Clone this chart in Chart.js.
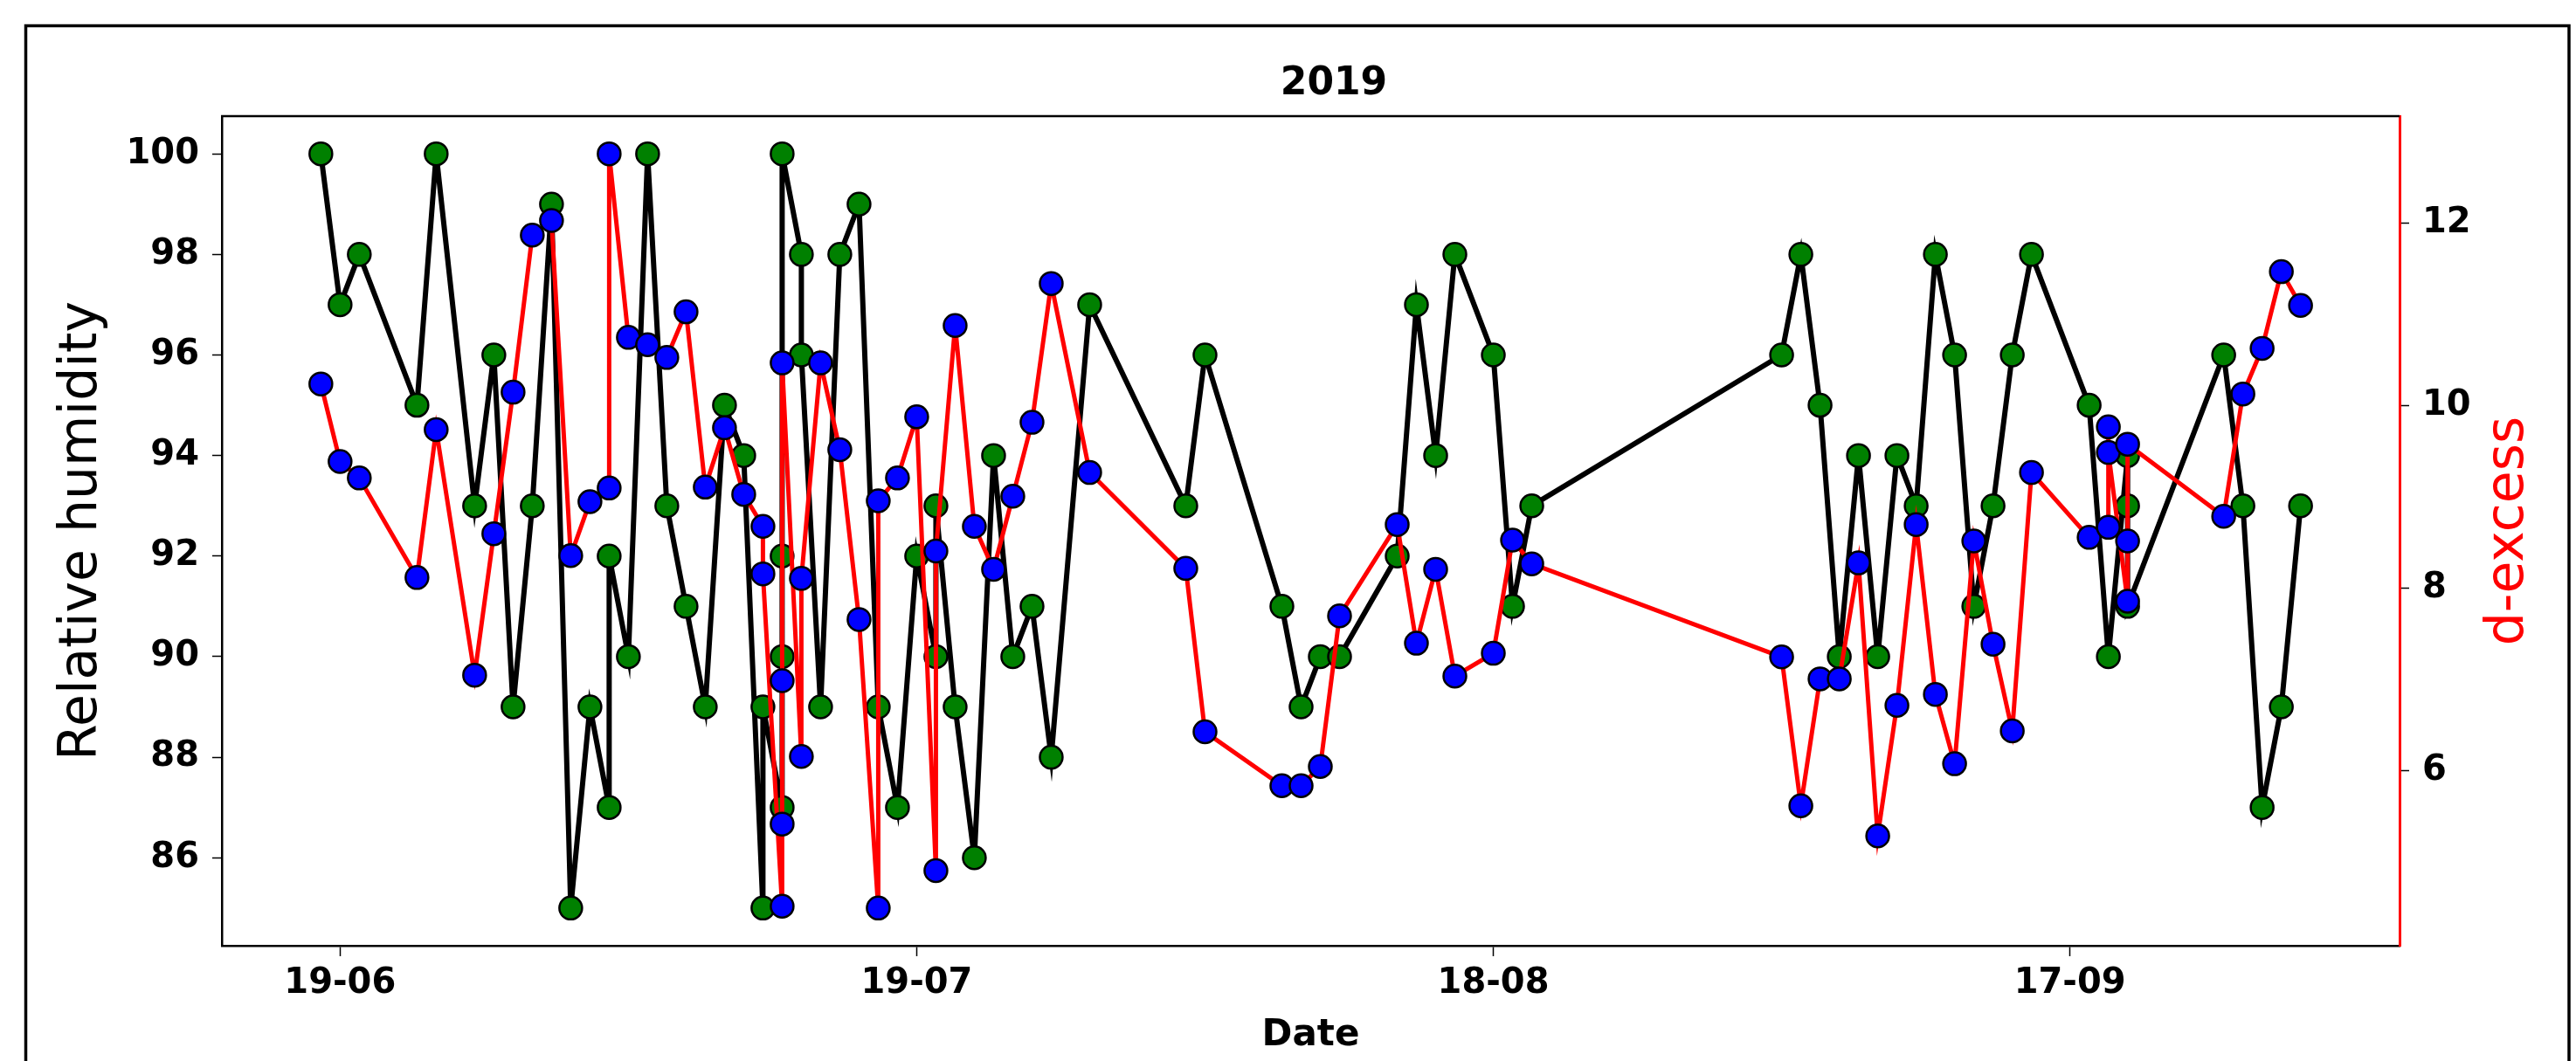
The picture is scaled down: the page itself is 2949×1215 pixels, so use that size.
<!DOCTYPE html>
<html>
<head>
<meta charset="utf-8">
<script src="https://cdn.jsdelivr.net/npm/chart.js@4.4.1/dist/chart.umd.min.js"></script>
<style>
html, body { margin: 0; padding: 0; background: #ffffff; }
#wrap { width: 2949px; height: 1215px; position: relative; }
canvas { display: block; }
</style>
</head>
<body>
<div id="wrap"><canvas id="c" width="2949" height="1215"></canvas></div>
<script>
// ---------------- data ----------------
const chartTitle = '2019';
const xTitle = 'Date';
const yLeftTitle = 'Relative humidity';
const yRightTitle = 'd-excess';
const year = 2019;

const xTickDates  = ['06-19', '07-19', '08-18', '09-17'];
const xTickLabels = ['19-06', '19-07', '18-08', '17-09'];
const rhTicks = [86, 88, 90, 92, 94, 96, 98, 100];
const dxTicks = [6, 8, 10, 12];

// Relative humidity (black line, green markers)
const rhDates = ['06-18','06-19','06-20','06-23','06-24','06-26','06-27','06-28','06-29','06-30',
  '07-01','07-02','07-03','07-03','07-04','07-05','07-06','07-07','07-08','07-09',
  '07-10','07-11','07-11','07-12','07-12','07-12','07-12','07-13','07-13','07-14',
  '07-15','07-16','07-17','07-18','07-19','07-20','07-20','07-21','07-22','07-23',
  '07-24','07-25','07-26','07-28','08-02','08-03','08-07','08-08','08-09','08-10',
  '08-13','08-14','08-15','08-16','08-18','08-19','08-20','09-02','09-03','09-04',
  '09-05','09-06','09-07','09-08','09-09','09-10','09-11','09-12','09-13','09-14',
  '09-15','09-18','09-19','09-20','09-20','09-20','09-25','09-26','09-27','09-28','09-29'];
const rhValues = [100,97,98,95,100,93,96,89,93,99,
  85,89,87,92,90,100,93,91,89,95,
  94,85,89,87,90,92,100,98,96,89,
  98,99,89,87,92,90,93,89,86,94,
  90,91,88,97,93,96,91,89,90,90,
  92,97,94,98,96,91,93,96,98,95,
  90,94,90,94,93,98,96,91,93,96,
  98,95,90,94,93,91,96,93,87,89,93];

// d-excess (red line, blue markers)
const dxDates = ['06-18','06-19','06-20','06-23','06-24','06-26','06-27','06-28','06-29','06-30',
  '07-01','07-02','07-03','07-03','07-04','07-05','07-06','07-07','07-08','07-09',
  '07-10','07-11','07-11','07-12','07-12','07-12','07-12','07-13','07-13','07-14',
  '07-15','07-16','07-17','07-17','07-18','07-19','07-20','07-20','07-21','07-22',
  '07-23','07-24','07-25','07-26','07-28','08-02','08-03','08-07','08-08','08-09',
  '08-10','08-13','08-14','08-15','08-16','08-18','08-19','08-20','09-02','09-03',
  '09-04','09-05','09-06','09-07','09-08','09-09','09-10','09-11','09-12','09-13',
  '09-14','09-15','09-18','09-19','09-19','09-19','09-20','09-20','09-20','09-25',
  '09-26','09-27','09-28','09-29'];
const dxValues = [10.24,9.39,9.21,8.12,9.74,7.05,8.60,10.15,11.87,12.03,
  8.36,8.95,9.10,12.76,10.75,10.67,10.53,11.03,9.11,9.76,
  9.03,8.68,8.16,4.52,5.42,6.99,10.47,6.16,8.11,10.47,
  9.52,7.66,4.50,8.96,9.21,9.88,4.91,8.41,10.88,8.68,
  8.21,9.01,9.82,11.34,9.27,8.22,6.43,5.84,5.84,6.05,
  7.70,8.70,7.40,8.21,7.04,7.29,8.53,8.27,7.25,5.62,
  7.01,7.01,8.28,5.29,6.72,8.70,6.84,6.08,8.52,7.39,
  6.44,9.27,8.56,8.67,9.77,9.49,7.86,8.52,9.58,8.79,
  10.13,10.63,11.47,11.10];

// ---------------- helpers ----------------
function dayOfYear(md) {
  const [m, d] = md.split('-').map(Number);
  return (Date.UTC(year, m - 1, d) - Date.UTC(year, 0, 0)) / 86400000;
}
function padRange(vals, frac) {
  const lo = Math.min(...vals), hi = Math.max(...vals), p = (hi - lo) * frac;
  return [lo - p, hi + p];
}
const rhPoints = rhDates.map((d, i) => ({ x: dayOfYear(d), y: rhValues[i] }));
const dxPoints = dxDates.map((d, i) => ({ x: dayOfYear(d), y: dxValues[i] }));
const allX = rhPoints.map(p => p.x).concat(dxPoints.map(p => p.x));
const [xMin, xMax] = padRange(allX, 0.05);
const [rhMin, rhMax] = padRange(rhValues, 0.05);
const [dxMin, dxMax] = padRange(dxValues, 0.05);

const FONT = '"DejaVu Sans", "Liberation Sans", sans-serif';
const W = 2949, H = 1215;
const AREA = { left: 254, right: 2747, top: 133, bottom: 1083 };

const decor = {
  id: 'decor',
  beforeDraw(chart) {
    const ctx = chart.ctx;
    ctx.save();
    ctx.fillStyle = '#ffffff';
    ctx.fillRect(0, 0, W, H);
    ctx.restore();
  },
  afterDraw(chart) {
    const ctx = chart.ctx;
    const a = chart.chartArea;
    ctx.save();
    // outer frame
    ctx.strokeStyle = '#000000';
    ctx.lineWidth = 3.5;
    ctx.strokeRect(29.5, 29.5, 2911.5, 1300);
    // top spine
    ctx.lineWidth = 2.5;
    ctx.beginPath();
    ctx.moveTo(a.left - 1, a.top);
    ctx.lineTo(a.right, a.top);
    ctx.stroke();
    // title
    ctx.fillStyle = '#000000';
    ctx.font = 'bold 44px ' + FONT;
    ctx.textAlign = 'center';
    ctx.textBaseline = 'alphabetic';
    ctx.fillText(chartTitle, 1527, 108);
    // x title
    ctx.font = 'bold 42px ' + FONT;
    ctx.fillText(xTitle, (a.left + a.right) / 2, 1197);
    // left y title
    ctx.font = '60px ' + FONT;
    ctx.textBaseline = 'middle';
    ctx.save();
    ctx.translate(94, (a.top + a.bottom) / 2);
    ctx.rotate(-Math.PI / 2);
    ctx.fillText(yLeftTitle, 0, 0);
    ctx.restore();
    // right y title
    ctx.save();
    ctx.fillStyle = '#ff0000';
    ctx.translate(2872, (a.top + a.bottom) / 2);
    ctx.rotate(-Math.PI / 2);
    ctx.fillText(yRightTitle, 0, 0);
    ctx.restore();
    ctx.restore();
  }
};

const tickFont = { family: FONT, size: 40, weight: 'bold' };

new Chart(document.getElementById('c'), {
  type: 'line',
  data: {
    datasets: [
      {
        label: yLeftTitle,
        data: rhPoints,
        yAxisID: 'yL',
        order: 2,
        borderColor: '#000000',
        borderWidth: 6,
        pointRadius: 13,
        pointBorderWidth: 2.5,
        pointBorderColor: '#000000',
        pointBackgroundColor: '#008000',
        tension: 0,
        fill: false
      },
      {
        label: yRightTitle,
        data: dxPoints,
        yAxisID: 'yR',
        order: 1,
        borderColor: '#ff0000',
        borderWidth: 5,
        pointRadius: 13,
        pointBorderWidth: 2.5,
        pointBorderColor: '#000000',
        pointBackgroundColor: '#0000ff',
        tension: 0,
        fill: false
      }
    ]
  },
  options: {
    responsive: false,
    animation: false,
    devicePixelRatio: 1,
    events: [],
    layout: { padding: { top: AREA.top, left: 0, right: 0, bottom: 0 } },
    plugins: { legend: { display: false }, tooltip: { enabled: false }, title: { display: false } },
    scales: {
      x: {
        type: 'linear',
        position: 'bottom',
        min: xMin,
        max: xMax,
        afterFit: s => { s.height = H - AREA.bottom; },
        afterBuildTicks: s => { s.ticks = xTickDates.map(d => ({ value: dayOfYear(d) })); },
        ticks: {
          callback: (v, i) => xTickLabels[i],
          font: tickFont, color: '#000000', padding: 8,
          maxRotation: 0, autoSkip: false
        },
        grid: { drawOnChartArea: false, drawTicks: true, tickLength: 12, tickColor: '#000000', tickWidth: 1.5 },
        border: { display: true, color: '#000000', width: 2.5 }
      },
      yL: {
        type: 'linear',
        position: 'left',
        min: rhMin,
        max: rhMax,
        afterFit: s => { s.width = AREA.left; },
        afterBuildTicks: s => { s.ticks = rhTicks.map(v => ({ value: v })); },
        ticks: { font: tickFont, color: '#000000', padding: 15 },
        grid: { drawOnChartArea: false, drawTicks: true, tickLength: 11, tickColor: '#000000', tickWidth: 1.5 },
        border: { display: true, color: '#000000', width: 2.5 }
      },
      yR: {
        type: 'linear',
        position: 'right',
        min: dxMin,
        max: dxMax,
        afterFit: s => { s.width = W - AREA.right; },
        afterBuildTicks: s => { s.ticks = dxTicks.map(v => ({ value: v })); },
        ticks: { font: tickFont, color: '#000000', padding: 15 },
        grid: { drawOnChartArea: false, drawTicks: true, tickLength: 11, tickColor: '#000000', tickWidth: 1.5 },
        border: { display: true, color: '#ff0000', width: 3 }
      }
    }
  },
  plugins: [decor]
});
</script>
</body>
</html>
